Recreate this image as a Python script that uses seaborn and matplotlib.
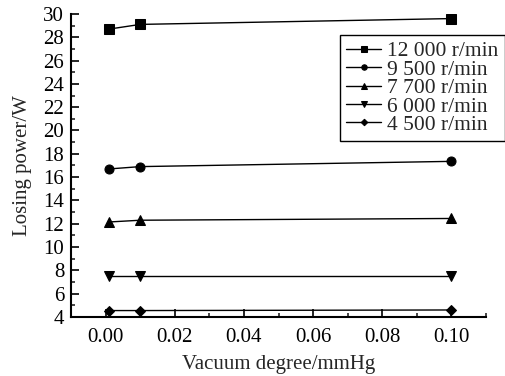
import matplotlib
matplotlib.use("Agg")
import matplotlib.pyplot as plt
import seaborn as sns
import pandas as pd
from matplotlib.ticker import MultipleLocator

# datos
vacio = [0.001, 0.01, 0.1]
series = ['12 000 r/min', '9 500 r/min', '7 700 r/min', '6 000 r/min', '4 500 r/min']
potencia = {
    '12 000 r/min': [28.7, 29.1, 29.6],
    '9 500 r/min': [16.7, 16.9, 17.35],
    '7 700 r/min': [12.15, 12.3, 12.45],
    '6 000 r/min': [7.5, 7.5, 7.5],
    '4 500 r/min': [4.55, 4.55, 4.6],
}
marcadores = ['s', 'o', '^', 'v', 'D']

sns.set_style("ticks")
plt.rcParams['font.family'] = ['Liberation Serif', 'DejaVu Serif']

fig = plt.figure(figsize=(5.05, 3.76), dpi=100)
ax = fig.add_axes([0.141, 0.157, 0.821, 0.806])

for nombre, m in zip(series, marcadores):
    df = pd.DataFrame({'x': vacio, 'y': potencia[nombre]})
    sns.lineplot(data=df, x='x', y='y', ax=ax, color='black', marker=m,
                 markersize=6.5 if m != 'D' else 5.5, linewidth=1.0,
                 markeredgecolor='black', label=nombre)

ax.set_xlim(-0.01, 0.11)
ax.set_ylim(4, 30)
ax.xaxis.set_major_locator(MultipleLocator(0.02))
ax.xaxis.set_minor_locator(MultipleLocator(0.01))
ax.yaxis.set_major_locator(MultipleLocator(2))
ax.yaxis.set_minor_locator(MultipleLocator(1))
ax.xaxis.set_major_formatter(matplotlib.ticker.FormatStrFormatter('%.2f'))
ax.tick_params(which='major', direction='in', length=6, width=1.2, labelsize=15, colors='black')
ax.tick_params(which='minor', direction='in', length=3, width=1.2)
ax.tick_params(axis='x', pad=8)
ax.tick_params(axis='y', pad=5)

for s in ['top', 'right']:
    ax.spines[s].set_visible(False)
for s in ['left', 'bottom']:
    ax.spines[s].set_linewidth(1.5)
    ax.spines[s].set_color('black')

ax.set_xlabel('Vacuum degree/mmHg', fontsize=15, labelpad=6)
ax.set_ylabel('Losing power/W', fontsize=15, labelpad=8)

leg = ax.legend(loc='upper right', bbox_to_anchor=(1.0, 0.907),
                bbox_transform=fig.transFigure, fontsize=15.5, frameon=True,
                fancybox=False, edgecolor='black', framealpha=1,
                handlelength=1.6, handletextpad=0.3, labelspacing=-0.08,
                borderpad=0.3, borderaxespad=0, markerscale=0.6)
leg.get_frame().set_linewidth(1.0)

fig.savefig('out.png', dpi=100)
